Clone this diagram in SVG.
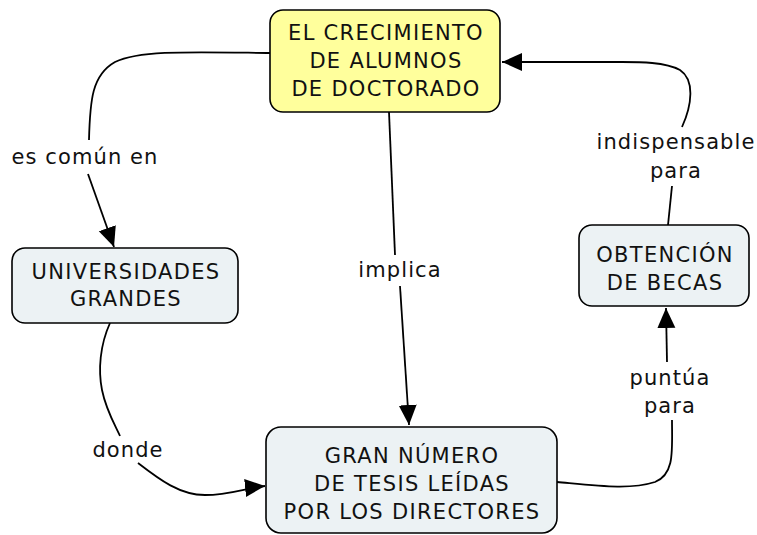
<svg xmlns="http://www.w3.org/2000/svg" width="757" height="535" viewBox="0 0 757 535">
<style>
.n{stroke:#000;stroke-width:1.6}
.y{fill:#ffff9c}
.b{fill:#ecf2f4}
.t{font-family:"DejaVu Sans",Verdana,sans-serif;font-size:21px;letter-spacing:1.3px;fill:#111;text-anchor:middle}
.l{font-family:"DejaVu Sans",Verdana,sans-serif;font-size:21px;letter-spacing:1.1px;fill:#111;text-anchor:middle}
.c{fill:none;stroke:#000;stroke-width:1.8}
</style>
<defs>
<marker id="A" viewBox="0 0 20 20" refX="20" refY="10" markerWidth="20" markerHeight="20" markerUnits="userSpaceOnUse" orient="auto">
<path d="M0,1 L20,10 L0,19 z" fill="#000"/>
</marker>
</defs>
<rect width="757" height="535" fill="#fff"/>
<g id="connectors">
<path class="c" d="M270,53 C190,52 140,50 115,62 C92,75 90,100 89,140"/>
<path class="c" d="M88,174 L114,247" marker-end="url(#A)"/>
<path class="c" d="M389,112 L395,255"/>
<path class="c" d="M400,286 L409,425" marker-end="url(#A)"/>
<path class="c" d="M110,323 C100,345 98,370 102,390 C106,410 115,425 120,436"/>
<path class="c" d="M138,463 C160,480 180,495 205,495 C230,495 245,488 265,486" marker-end="url(#A)"/>
<path class="c" d="M557,482 C600,486 630,490 655,482 C675,474 672,450 672,420"/>
<path class="c" d="M667,362 L666,308" marker-end="url(#A)"/>
<path class="c" d="M668,225 L672,186"/>
<path class="c" d="M682,127 C692,105 695,80 680,70 C665,62 640,62 622,62 L502,62" marker-end="url(#A)"/>
</g>
<g id="labels">
<text class="l" x="85" y="164">es común en</text>
<text class="l" x="400" y="277">implica</text>
<text class="l" x="676" y="149">indispensable</text>
<text class="l" x="676" y="178">para</text>
<text class="l" x="670" y="385">puntúa</text>
<text class="l" x="670" y="413">para</text>
<text class="l" x="128" y="457">donde</text>
</g>
<g id="node-crecimiento">
<rect class="n y" x="270" y="10" width="230" height="102" rx="13"/>
<text class="t" x="386" y="40">EL CRECIMIENTO</text>
<text class="t" x="386" y="68">DE ALUMNOS</text>
<text class="t" x="386" y="96">DE DOCTORADO</text>
</g>
<g id="node-universidades">
<rect class="n b" x="12" y="248" width="226" height="75" rx="13"/>
<text class="t" x="126" y="279">UNIVERSIDADES</text>
<text class="t" x="126" y="306">GRANDES</text>
</g>
<g id="node-gran">
<rect class="n b" x="266" y="427" width="291" height="106" rx="15"/>
<text class="t" x="412" y="463">GRAN NÚMERO</text>
<text class="t" x="412" y="491">DE TESIS LEÍDAS</text>
<text class="t" x="412" y="519">POR LOS DIRECTORES</text>
</g>
<g id="node-becas">
<rect class="n b" x="579" y="225" width="170" height="81" rx="13"/>
<text class="t" x="665" y="262">OBTENCIÓN</text>
<text class="t" x="665" y="290">DE BECAS</text>
</g>
</svg>
